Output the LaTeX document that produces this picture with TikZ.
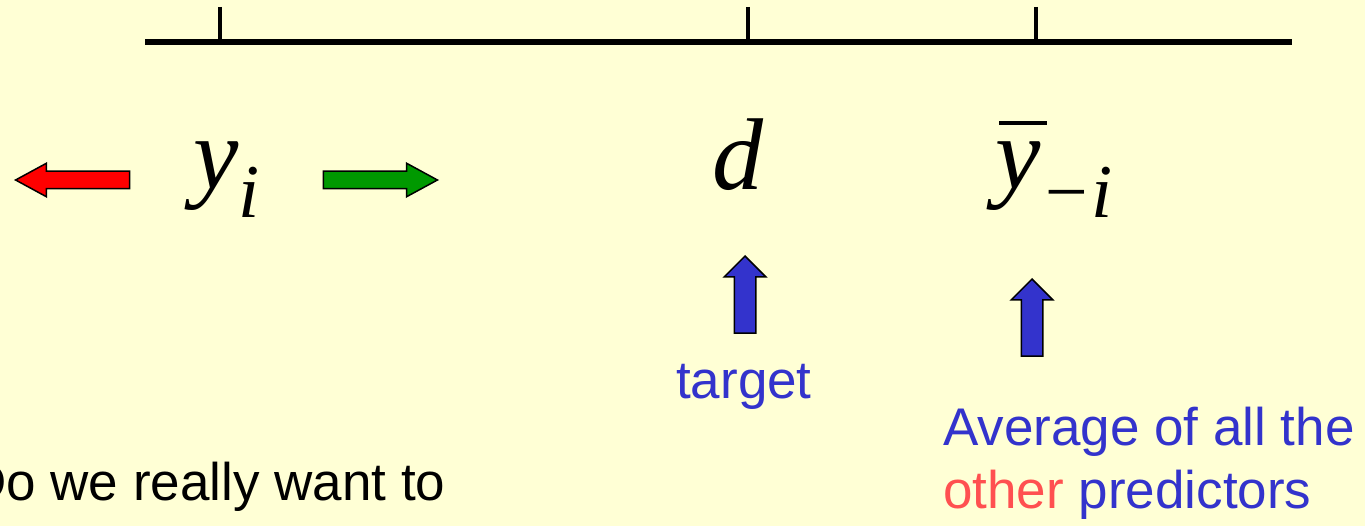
\documentclass[tikz,border=0pt]{standalone}
\usepackage{fontspec}
\setmainfont{Liberation Sans}
\newfontfamily\timesfont{Liberation Serif}
\usetikzlibrary{shapes.arrows}
\definecolor{slidebg}{RGB}{255,255,213}
\definecolor{txtblue}{RGB}{51,51,204}
\definecolor{txtred}{RGB}{255,80,80}
\definecolor{arrred}{RGB}{255,0,0}
\definecolor{arrgreen}{RGB}{0,153,0}
\begin{document}
\begin{tikzpicture}[
  x=1pt, y=-1pt,
  axisline/.style={line width=5.5pt},
  tickline/.style={line width=3.5pt},
  symb/.style={font=\timesfont\itshape\fontsize{102}{102}\selectfont,
    inner sep=0pt, anchor=base west},
  slidetext/.style={font=\fontsize{53}{63}\selectfont, inner sep=0pt,
    anchor=base west},
  sidearrow/.style={single arrow, draw=black, line width=1.5pt,
    inner xsep=0pt, inner ysep=8pt, single arrow head extend=8pt,
    single arrow tip angle=57, minimum height=114pt, anchor=tip},
  uparrow/.style={single arrow, draw=black, line width=1.5pt,
    fill=txtblue, inner xsep=10pt, inner ysep=0pt,
    single arrow head extend=10pt, single arrow tip angle=90,
    minimum height=77pt, shape border rotate=90, anchor=tip},
]
\useasboundingbox (0,0) rectangle (1365,526);
\fill[slidebg] (0,0) rectangle (1365,526);
\clip (0,0) rectangle (1365,526);

% number line with its three marks
\coordinate (axL) at (145,42);
\coordinate (axR) at (1292,42);
\coordinate (tkY) at (220,7);
\coordinate (tkD) at (748,7);
\coordinate (tkBar) at (1036,7);
\draw[axisline] (axL) -- (axR);
\draw[tickline] (tkY) -- (tkY |- axL);
\draw[tickline] (tkD) -- (tkD |- axL);
\draw[tickline] (tkBar) -- (tkBar |- axL);

% symbols under the marks
\node[symb] (yi) at (193,189)
  {y\raisebox{-29pt}{\fontsize{76}{76}\selectfont i}};
\node[symb] (dd) at (712,190) {d};
\node[symb] (ybar) at (995,189)
  {\rlap{\hspace{4pt}\rule[64pt]{48pt}{4pt}}y\raisebox{-29pt}{\fontsize{76}{76}\selectfont −i}};

% y_i can move either way
\node[sidearrow, fill=arrred, shape border rotate=180] (goleft) at (14,180) {};
\node[sidearrow, fill=arrgreen] (goright) at (439,180) {};

% pointers to target and average
\node[uparrow] (uptarget) at (745,255) {};
\node[uparrow] (upavg) at (1032,278) {};

\node[slidetext, text=txtblue] (target) at (676,399) {target};
\node[slidetext, text=txtblue] (avg1) at (943,445) {Average of all the};
\node[slidetext, text=txtblue] (avg2) at (943,508)
  {\textcolor{txtred}{other} predictors};

% question, cut off at the slide edge
\node[slidetext] (question) at (-32,500) {Do we really want to};
\end{tikzpicture}
\end{document}
